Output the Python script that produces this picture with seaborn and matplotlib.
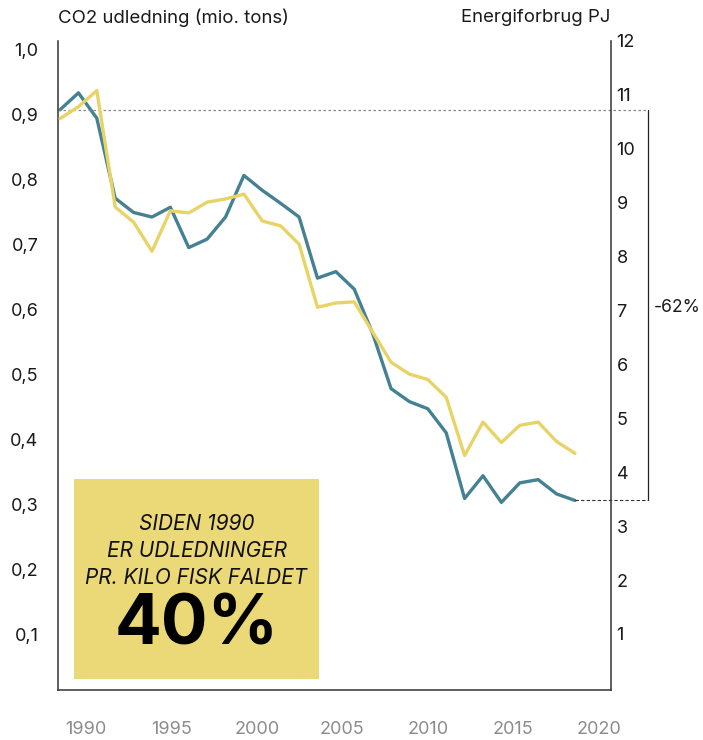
import numpy as np
import pandas as pd
import matplotlib
matplotlib.use("Agg")
import matplotlib.pyplot as plt
from matplotlib.patches import Rectangle
import seaborn as sns

# data
years = list(range(1990, 2019))
co2 = [0.908, 0.934, 0.895, 0.772, 0.750, 0.743, 0.758, 0.696, 0.709, 0.743,
       0.807, 0.784, 0.764, 0.743, 0.649, 0.659, 0.632, 0.564, 0.479, 0.459,
       0.448, 0.411, 0.310, 0.345, 0.304, 0.334, 0.339, 0.317, 0.307]
energy = [10.56, 10.78, 11.08, 8.92, 8.64, 8.10, 8.85, 8.81, 9.01, 9.07,
          9.16, 8.66, 8.57, 8.23, 7.06, 7.14, 7.16, 6.60, 6.04, 5.82,
          5.72, 5.39, 4.31, 4.93, 4.55, 4.87, 4.93, 4.57, 4.35]
left_ticks = [0.1, 0.2, 0.3, 0.4, 0.5, 0.6, 0.7, 0.8, 0.9, 1.0]
right_ticks = list(range(1, 13))
year_labels = [1990, 1995, 2000, 2005, 2010, 2015, 2020]

TEAL = "#448192"
YELLOW = "#E8D466"
BOX = "#EBD877"

df = pd.DataFrame({"year": years, "co2": co2, "energy": energy})

sns.set_theme(style="white")
plt.rcParams["font.family"] = ["Inter", "DejaVu Sans"]

fig = plt.figure(figsize=(7.03, 7.40), dpi=100)
ax = fig.add_axes([0.0825, 0.0676, 0.7866, 0.877])
ax2 = ax.twinx()
ax3 = ax.twiny()

sns.lineplot(data=df, x="year", y="co2", ax=ax, color=TEAL, linewidth=2.4)
sns.lineplot(data=df, x="year", y="energy", ax=ax2, color=YELLOW, linewidth=2.4)

ax.set_xlim(1989.89, 2019.96)
ax.set_ylim(0.0154, 1.0138)
ax2.set_ylim(-0.04, 12.0)
ax3.set_xlim(1988.39, 2020.70)

ax.set_xticks([])
ax.set_yticks(left_ticks)
ax.set_yticklabels([f"{v:.1f}".replace(".", ",") for v in left_ticks])
ax.tick_params(axis="y", length=0, pad=14, labelsize=13, labelcolor="#1a1a1a")
ax2.set_yticks(right_ticks)
ax2.tick_params(axis="y", length=0, pad=4, labelsize=13, labelcolor="#1a1a1a")
ax3.set_xticks(year_labels)
ax3.xaxis.set_ticks_position("bottom")
ax3.xaxis.set_label_position("bottom")
ax3.tick_params(axis="x", length=0, pad=22, labelsize=13, labelcolor="#8c8c8c")

for a in (ax, ax2, ax3):
    a.set_xlabel("")
    a.set_ylabel("")
    for s in a.spines.values():
        s.set_visible(False)
ax.spines["left"].set_visible(True)
ax.spines["bottom"].set_visible(True)
ax2.spines["right"].set_visible(True)
for a, s in ((ax, "left"), (ax, "bottom"), (ax2, "right")):
    a.spines[s].set_color("#333333")
    a.spines[s].set_linewidth(1.1)

# -62% bracket
trans = ax.get_yaxis_transform()
x_br = 1.067
ax.plot([0, x_br], [co2[0], co2[0]], transform=trans, color="#888888",
        linestyle=(0, (2, 2)), linewidth=0.9, clip_on=False)
ax.plot([years[-1], 2022.0], [co2[-1], co2[-1]], color="#333333",
        linestyle=(0, (3, 2)), linewidth=0.8, clip_on=False)
ax.plot([x_br, x_br], [co2[0], co2[-1]], transform=trans, color="#222222",
        linewidth=0.9, clip_on=False)
fig.text(654 / 703, 1 - 307 / 740, "-62%", ha="left", va="center",
         fontsize=12.6, color="#1a1a1a")

# headers
fig.text(58 / 703, 1 - 18 / 740, "CO2 udledning (mio. tons)", ha="left",
         va="center", fontsize=13.4, color="#1a1a1a")
fig.text(610 / 703, 1 - 18 / 740, "Energiforbrug PJ", ha="right",
         va="center", fontsize=13.4, color="#1a1a1a")

# highlight box
fig.patches.append(Rectangle((74 / 703, 1 - 679 / 740), 245 / 703, 200 / 740,
                             transform=fig.transFigure, facecolor=BOX,
                             edgecolor="none", zorder=5))
cx = 196.5 / 703
for txt, y in (("SIDEN 1990", 524), ("ER UDLEDNINGER", 551),
               ("PR. KILO FISK FALDET", 578)):
    fig.text(cx, 1 - y / 740, txt, ha="center", va="center", fontsize=15,
             style="italic", color="#111111", zorder=6)
fig.text(cx, 1 - 626 / 740, "40%", ha="center", va="center", fontsize=50,
         fontweight="bold", color="#000000", zorder=6)

fig.savefig("out.png", dpi=100)
